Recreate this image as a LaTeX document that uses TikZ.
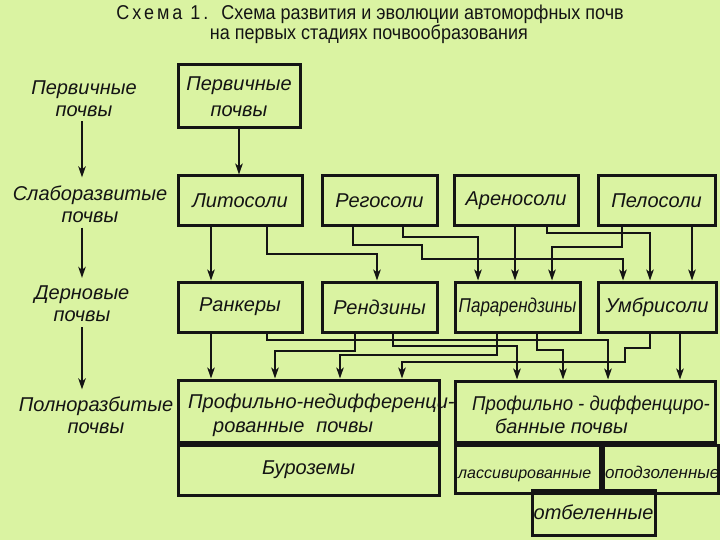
\documentclass[tikz,border=0pt]{standalone}
\usepackage{fontspec}
\setmainfont{Liberation Sans}
\newfontfamily\headfamily[FakeStretch=0.9]{Liberation Sans}
\usetikzlibrary{arrows.meta, positioning}
\definecolor{paper}{HTML}{DAF3A2}
\definecolor{ink}{HTML}{141414}
\newcommand{\soilfont}{\fontsize{20}{26}\selectfont\itshape}
\newcommand{\stagefont}{\fontsize{20}{22}\selectfont\itshape}
\newcommand{\headfont}{\headfamily\fontsize{20}{22}\selectfont}
\tikzset{
    soil/.style={
        rectangle, draw=ink, line width=3pt,
        inner sep=1pt, align=center,
        font=\soilfont, text=ink
    },
    stage/.style={
        align=center, inner sep=2pt,
        font=\stagefont, text=ink
    },
    soil text/.style={
        inner sep=0pt, anchor=base west,
        font=\soilfont, text=ink
    },
    head/.style={
        inner sep=0pt, anchor=base,
        font=\headfont, text=ink
    },
    arr/.style={
        -{Stealth[length=11pt, width=7.5pt, inset=3pt]},
        line width=1.8pt, draw=ink
    }
}

\begin{document}
\begin{tikzpicture}[x=1pt, y=-1pt, node distance=0pt]

    \useasboundingbox (0,0) rectangle (720,540);
    \fill[paper] (0,0) rectangle (720,540);

    % Title
    \node[head] (title) at (370,20) {{\addfontfeature{LetterSpace=15}Схема 1.}\hspace{13pt}Схема развития и эволюции автоморфных почв};
    \node[head] (subtitle) at (369,39.5) {на первых стадиях почвообразования};

    % Stages
    \node[stage] (s1) at (84,99) {Первичные\\почвы};
    \node[stage] (s2) at (90,204) {Слаборазвитые\\почвы};
    \node[stage] (s3) at (82,304) {Дерновые\\почвы};
    \node[stage] (s4) at (96,415) {Полноразбитые\\почвы};

    \draw[arr, shorten <=2pt, shorten >=6pt] (82,0 |- s1.south) -- (82,0 |- s2.north);
    \draw[arr, shorten <=3pt, shorten >=6pt] (82,0 |- s2.south) -- (82,0 |- s3.north);
    \draw[arr, shorten <=3pt, shorten >=5pt] (82,0 |- s3.south) -- (82,0 |- s4.north);

    % Soils
    \node[soil, minimum width=122pt, minimum height=63pt] (prim) at (239,96.5) {Первичные\\почвы};

    \node[soil, minimum width=124pt, minimum height=50pt] (lit) at (240,201) {Литосоли};
    \node[soil, minimum width=115pt, minimum height=50pt] (reg) at (379.5,201) {Регосоли};
    \node[soil, minimum width=124pt, minimum height=50pt] (aren) at (516,201) {Ареносоли};
    \node[soil, minimum width=117pt, minimum height=50pt] (pel) at (656.5,201) {Пелосоли};

    \node[soil, minimum width=124pt, minimum height=50pt] (rank) at (240,307) {Ранкеры};
    \node[soil, minimum width=115pt, minimum height=50pt] (rendz) at (379.5,307) {Рендзины};
    \node[soil, minimum width=125pt, minimum height=50pt] (para) at (517.5,307) {\scalebox{0.85}[1]{Парарендзины}};
    \node[soil, minimum width=118pt, minimum height=50pt] (umbr) at (657,307) {Умбрисоли};

    \node[soil, minimum width=261pt, minimum height=62pt] (undiff) at (308.5,411) {};
    \node[soil, minimum width=261pt, minimum height=50pt, below=of undiff] (buroz) {Буроземы};
    \node[soil, minimum width=260pt, minimum height=61pt] (diff) at (585,411.5) {};
    \node[soil, minimum width=145pt, minimum height=48pt, anchor=north west] (lessiv) at (diff.south west) {};
    \node[soil, minimum width=115pt, minimum height=48pt, right=of lessiv] (podz) {};
    \node[soil, minimum width=123pt, minimum height=45pt] (otbel) at (593.5,512.5) {отбеленные};

    \node[soil text] (undiffa) at (188,408) {Профильно-недифференци-};
    \node[soil text] (undiffb) at (213,432) {рованные\hspace{12pt}почвы};
    \node[soil text] (diffa) at (472,410) {\scalebox{0.93}[1]{Профильно - диффенциро-}};
    \node[soil text] (diffb) at (495,433) {банные почвы};
    \node[soil text, font=\fontsize{16}{20}\selectfont\itshape] (lessivt) at (458,478) {лассивированные};
    \node[soil text, font=\fontsize{17}{20}\selectfont\itshape] (podzt) at (605,478) {оподзоленные};

    % Links
    \draw[arr] (prim.south) -- (prim.south |- lit.north);

    \draw[arr] (211,0 |- lit.south) -- (211,0 |- rank.north);
    \draw[arr] (267,0 |- lit.south) |- (377,254) -- (377,0 |- rendz.north);
    \draw[arr] (353,0 |- reg.south) |- (422,245) |- (623,259) -- (623,0 |- umbr.north);
    \draw[arr] (403,0 |- reg.south) |- (478,237) -- (478,0 |- para.north);
    \draw[arr] (515,0 |- aren.south) -- (515,0 |- para.north);
    \draw[arr] (547,0 |- aren.south) |- (650,233) -- (650,0 |- umbr.north);
    \draw[arr] (622,0 |- pel.south) |- (552,247) -- (552,0 |- para.north);
    \draw[arr] (692,0 |- pel.south) -- (692,0 |- umbr.north);

    \draw[arr] (211,0 |- rank.south) -- (211,0 |- undiff.north);
    \draw[arr] (267,0 |- rank.south) |- (608,340) -- (608,0 |- diff.north);
    \draw[arr] (355,0 |- rendz.south) |- (275,351) -- (275,0 |- undiff.north);
    \draw[arr] (393,0 |- rendz.south) |- (517,346) -- (517,0 |- diff.north);
    \draw[arr] (497,0 |- para.south) |- (340,355) -- (340,0 |- undiff.north);
    \draw[arr] (537,0 |- para.south) |- (563,350) -- (563,0 |- diff.north);
    \draw[arr] (650,0 |- umbr.south) |- (625,348) |- (402,362) -- (402,0 |- undiff.north);
    \draw[arr] (680,0 |- umbr.south) -- (680,0 |- diff.north);

\end{tikzpicture}
\end{document}
